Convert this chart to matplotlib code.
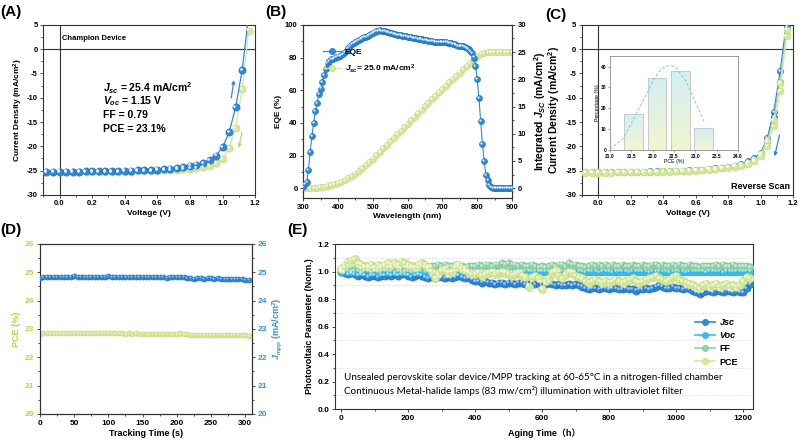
import numpy as np
import matplotlib.pyplot as plt
from matplotlib.lines import Line2D
from matplotlib.ticker import MultipleLocator, FormatStrFormatter
from matplotlib.transforms import offset_copy
from matplotlib.colors import LinearSegmentedColormap

# ---------------- data ----------------
# (A) champion J-V
volt = [-0.08, -0.04, 0.00, 0.04, 0.08, 0.12, 0.16, 0.20, 0.24, 0.28, 0.32, 0.36, 0.40, 0.44, 0.48, 0.52,
        0.56, 0.60, 0.64, 0.68, 0.72, 0.76, 0.80, 0.84, 0.88, 0.92, 0.96, 1.00, 1.04, 1.08, 1.12, 1.16]
j_rev = [-25.2, -25.2, -25.2, -25.2, -25.2, -25.2, -25.15, -25.15, -25.1, -25.1, -25.05, -25.05, -25.0, -25.0, -24.95, -24.9,
         -24.85, -24.8, -24.7, -24.6, -24.45, -24.25, -24.0, -23.8, -23.5, -22.9, -21.9, -20.2, -17.1, -12.0, -4.3, 7.0]
j_fwd = [-25.35, -25.35, -25.35, -25.35, -25.35, -25.35, -25.3, -25.3, -25.3, -25.3, -25.25, -25.25, -25.2, -25.2, -25.15, -25.1,
         -25.05, -25.0, -24.95, -24.9, -24.8, -24.7, -24.6, -24.45, -24.25, -23.95, -23.5, -22.6, -20.4, -16.2, -8.3, 3.8]

# (B) EQE and integrated Jsc
wl_eqe = [300, 305, 310, 315, 320, 325, 330, 335, 340, 345, 350, 355, 360, 365, 370, 375, 380, 385, 390, 395,
          400, 405, 410, 415, 420, 425, 430, 435, 440, 445, 450, 455, 460, 465, 470, 475, 480, 485, 490, 495,
          500, 505, 510, 515, 520, 525, 530, 535, 540, 545, 550, 555, 560, 565, 570, 575, 580, 585, 590, 595,
          600, 605, 610, 615, 620, 625, 630, 635, 640, 645, 650, 655, 660, 665, 670, 675, 680, 685, 690, 695,
          700, 705, 710, 715, 720, 725, 730, 735, 740, 745, 750, 755, 760, 765, 770, 775, 780, 785, 790, 795,
          800, 805, 810, 815, 820, 825, 830, 835, 840, 845, 850, 855, 860, 865, 870, 875, 880, 885, 890, 895, 900]
eqe = [1.0, 2.5, 4.0, 11.0, 22.0, 32.0, 40.0, 47.0, 52.0, 57.5, 61.0, 65.0, 69.5, 73.0, 76.5, 78.0, 78.8, 79.3, 79.8, 80.2,
       80.6, 81.0, 81.6, 82.4, 83.5, 84.8, 86.0, 87.3, 88.3, 89.0, 89.7, 90.3, 90.8, 91.3, 91.8, 92.3, 92.8, 93.4, 94.0, 94.5,
       95.0, 95.5, 96.0, 96.4, 96.6, 96.4, 96.2, 96.0, 95.8, 95.5, 95.2, 94.9, 94.6, 94.3, 94.0, 93.8, 93.5, 93.3, 93.1, 92.9,
       92.7, 92.5, 92.3, 92.1, 91.9, 91.7, 91.5, 91.3, 91.1, 90.9, 90.7, 90.5, 90.3, 90.1, 89.9, 89.8, 89.7, 89.6, 89.6, 89.6,
       89.6, 89.5, 89.4, 89.2, 89.0, 88.7, 88.4, 88.0, 87.6, 87.3, 87.0, 86.9, 86.8, 86.5, 85.8, 85.0, 84.0, 82.5, 80.0, 75.0,
       67.0, 55.0, 41.0, 27.0, 16.5, 8.0, 5.0, 2.0, 0.8, 0.3, 0.0, 0.0, 0.0, 0.0, 0.0, 0.0, 0.0, 0.0, 0.0, 0.0, 0.0]
wl_int = [300, 310, 320, 330, 340, 350, 360, 370, 380, 390, 400, 410, 420, 430, 440, 450, 460, 470, 480, 490,
          500, 510, 520, 530, 540, 550, 560, 570, 580, 590, 600, 610, 620, 630, 640, 650, 660, 670, 680, 690,
          700, 710, 720, 730, 740, 750, 760, 770, 780, 790, 800, 810, 820, 830, 840, 850, 860, 870, 880, 890, 900]
jsc_int = [0.0, 0.0, 0.02, 0.05, 0.1, 0.17, 0.26, 0.38, 0.53, 0.72, 0.95, 1.2, 1.5, 1.85, 2.25, 2.7, 3.2, 3.72, 4.27, 4.85,
           5.45, 6.07, 6.7, 7.34, 7.98, 8.62, 9.26, 9.9, 10.54, 11.18, 11.82, 12.46, 13.1, 13.74, 14.38, 15.02, 15.66, 16.3, 16.94, 17.58,
           18.2, 18.82, 19.44, 20.05, 20.66, 21.25, 21.83, 22.4, 22.95, 23.5, 24.1, 24.6, 24.9, 25.0, 25.0, 25.0, 25.0, 25.0, 25.0, 25.0, 25.0]

# (C) reverse scans of several devices
jc_blue1 = [-25.3, -25.3, -25.3, -25.3, -25.3, -25.3, -25.25, -25.25, -25.2, -25.2, -25.15, -25.15, -25.1, -25.1, -25.05, -25.0,
            -24.95, -24.9, -24.8, -24.7, -24.55, -24.4, -24.2, -23.95, -23.6, -23.1, -22.4, -21.3, -18.3, -12.9, -4.5, 6.0]
jc_blue2 = [-25.35, -25.35, -25.35, -25.35, -25.35, -25.3, -25.3, -25.3, -25.25, -25.25, -25.2, -25.2, -25.15, -25.15, -25.1, -25.05,
            -25.0, -24.95, -24.85, -24.75, -24.6, -24.45, -24.3, -24.05, -23.75, -23.3, -22.8, -21.8, -19.0, -14.0, -6.8, 4.5]
jc_green1 = [-25.4, -25.4, -25.4, -25.4, -25.4, -25.35, -25.35, -25.35, -25.3, -25.3, -25.25, -25.25, -25.2, -25.2, -25.15, -25.1,
             -25.05, -25.0, -24.9, -24.8, -24.7, -24.55, -24.4, -24.2, -24.0, -23.7, -23.1, -22.0, -19.9, -15.8, -8.6, 2.7]
jc_green2 = [-25.35, -25.35, -25.35, -25.35, -25.35, -25.3, -25.3, -25.3, -25.25, -25.25, -25.2, -25.2, -25.15, -25.15, -25.1, -25.05,
             -25.0, -24.95, -24.85, -24.75, -24.6, -24.45, -24.3, -24.1, -23.8, -23.4, -22.8, -21.6, -19.0, -14.6, -7.0, 4.0]

# (C) inset: PCE distribution
pce_bins = [21.55, 22.10, 22.65, 23.20]
pce_pct = [17.3, 34.5, 38.0, 10.4]
fit_x = [21.0, 21.3, 21.58, 21.86, 22.04, 22.2, 22.32, 22.45, 22.56, 22.79, 22.98, 23.21]
fit_y = [0.5, 5.3, 15.8, 27.0, 34.4, 38.8, 40.2, 40.3, 39.2, 32.7, 23.9, 13.4]

# (D) MPP tracking
t_mpp = [0, 5, 10, 15, 20, 25, 30, 35, 40, 45, 50, 55, 60, 65, 70, 75, 80, 85, 90, 95,
         100, 105, 110, 115, 120, 125, 130, 135, 140, 145, 150, 155, 160, 165, 170, 175, 180, 185, 190, 195,
         200, 205, 210, 215, 220, 225, 230, 235, 240, 245, 250, 255, 260, 265, 270, 275, 280, 285, 290, 295, 300, 305]
j_mpp = [24.80, 24.83, 24.84, 24.85, 24.83, 24.84, 24.85, 24.84, 24.83, 24.85,
         24.86, 24.84, 24.85, 24.84, 24.85, 24.83, 24.84, 24.85, 24.84, 24.85,
         24.86, 24.84, 24.83, 24.84, 24.85, 24.83, 24.84, 24.83, 24.84, 24.83,
         24.82, 24.84, 24.82, 24.83, 24.82, 24.83, 24.82, 24.81, 24.83, 24.82,
         24.83, 24.84, 24.82, 24.81, 24.79, 24.78, 24.80, 24.79, 24.78, 24.79,
         24.80, 24.78, 24.79, 24.78, 24.77, 24.78, 24.77, 24.78, 24.76, 24.75, 24.74, 24.73]
pce_mpp = [22.82, 22.84, 22.85, 22.84, 22.85, 22.84, 22.85, 22.84, 22.85, 22.84,
           22.86, 22.85, 22.84, 22.85, 22.84, 22.85, 22.84, 22.85, 22.85, 22.86,
           22.86, 22.85, 22.84, 22.85, 22.84, 22.83, 22.84, 22.83, 22.84, 22.83,
           22.82, 22.83, 22.82, 22.83, 22.82, 22.83, 22.82, 22.82, 22.83, 22.82,
           22.83, 22.84, 22.82, 22.81, 22.80, 22.79, 22.80, 22.80, 22.79, 22.80,
           22.80, 22.79, 22.80, 22.79, 22.78, 22.79, 22.78, 22.79, 22.78, 22.77, 22.77, 22.76]

# (E) aging, every 10 h from 0 to 1220 h
t_age = [0, 10, 20, 30, 40, 50, 60, 70, 80, 90, 100, 110, 120, 130, 140, 150, 160, 170, 180, 190,
         200, 210, 220, 230, 240, 250, 260, 270, 280, 290, 300, 310, 320, 330, 340, 350, 360, 370, 380, 390,
         400, 410, 420, 430, 440, 450, 460, 470, 480, 490, 500, 510, 520, 530, 540, 550, 560, 570, 580, 590,
         600, 610, 620, 630, 640, 650, 660, 670, 680, 690, 700, 710, 720, 730, 740, 750, 760, 770, 780, 790,
         800, 810, 820, 830, 840, 850, 860, 870, 880, 890, 900, 910, 920, 930, 940, 950, 960, 970, 980, 990,
         1000, 1010, 1020, 1030, 1040, 1050, 1060, 1070, 1080, 1090, 1100, 1110, 1120, 1130, 1140, 1150, 1160, 1170, 1180, 1190,
         1200, 1210, 1220]
jsc_age = [1.00, 0.99, 0.98, 0.99, 0.98, 0.97, 0.98, 0.97, 0.96, 0.97,
           0.97, 0.96, 0.97, 0.97, 0.98, 0.97, 0.98, 0.97, 0.98, 0.98,
           0.97, 0.96, 0.97, 0.98, 0.97, 0.96, 0.95, 0.96, 0.95, 0.96,
           0.96, 0.95, 0.96, 0.95, 0.96, 0.97, 0.96, 0.95, 0.95, 0.94,
           0.93, 0.93, 0.92, 0.93, 0.92, 0.92, 0.91, 0.92, 0.92, 0.91,
           0.92, 0.92, 0.91, 0.92, 0.92, 0.91, 0.91, 0.92, 0.91, 0.92,
           0.92, 0.91, 0.92, 0.91, 0.90, 0.91, 0.90, 0.90, 0.91, 0.90,
           0.91, 0.90, 0.89, 0.88, 0.87, 0.88, 0.88, 0.87, 0.88, 0.88,
           0.87, 0.88, 0.88, 0.87, 0.87, 0.88, 0.87, 0.87, 0.86, 0.87,
           0.87, 0.88, 0.87, 0.88, 0.89, 0.90, 0.89, 0.88, 0.88, 0.89,
           0.88, 0.88, 0.87, 0.88, 0.87, 0.86, 0.85, 0.84, 0.85, 0.86,
           0.86, 0.85, 0.86, 0.86, 0.85, 0.86, 0.86, 0.85, 0.86, 0.85,
           0.85, 0.88, 0.91]
voc_age = [1.00, 1.005, 1.00, 0.995, 1.00, 1.00, 0.995, 1.00, 1.00, 0.995,
           1.00, 1.00, 0.995, 1.00, 1.00, 1.00, 0.995, 1.00, 1.00, 1.00,
           1.00, 0.995, 1.00, 1.00, 1.00, 0.995, 1.00, 1.00, 0.995, 1.00,
           1.00, 1.00, 0.995, 1.00, 1.00, 1.00, 1.00, 0.995, 1.00, 1.00,
           1.00, 1.00, 1.005, 1.00, 1.00, 1.00, 1.005, 1.00, 1.00, 1.00,
           1.00, 1.005, 1.00, 1.00, 1.00, 1.00, 1.00, 1.005, 1.00, 1.00,
           1.00, 1.00, 1.00, 1.005, 1.00, 1.00, 1.00, 1.00, 1.00, 1.00,
           1.00, 1.00, 1.00, 0.995, 1.00, 1.00, 1.00, 0.995, 1.00, 1.00,
           1.00, 0.995, 1.00, 1.00, 1.00, 1.00, 0.995, 1.00, 1.00, 1.00,
           1.00, 1.00, 0.995, 1.00, 1.00, 1.00, 1.00, 1.00, 0.995, 1.00,
           1.00, 1.00, 1.00, 0.995, 1.00, 1.00, 1.00, 1.00, 1.00, 0.995,
           1.00, 1.00, 1.00, 1.00, 0.995, 1.00, 1.00, 1.00, 1.00, 1.00,
           1.00, 1.00, 1.00]
ff_age = [1.02, 1.03, 1.04, 1.03, 1.04, 1.03, 1.02, 1.03, 1.03, 1.02,
          1.03, 1.02, 1.03, 1.04, 1.03, 1.03, 1.04, 1.03, 1.02, 1.03,
          1.03, 1.02, 1.03, 1.03, 1.04, 1.03, 1.03, 1.04, 1.04, 1.05,
          1.04, 1.05, 1.04, 1.04, 1.05, 1.04, 1.04, 1.03, 1.04, 1.04,
          1.04, 1.05, 1.04, 1.05, 1.05, 1.04, 1.05, 1.05, 1.06, 1.05,
          1.06, 1.05, 1.05, 1.04, 1.05, 1.04, 1.04, 1.05, 1.04, 1.03,
          1.04, 1.03, 1.04, 1.05, 1.04, 1.05, 1.05, 1.04, 1.06, 1.05,
          1.05, 1.04, 1.04, 1.03, 1.04, 1.05, 1.04, 1.05, 1.04, 1.05,
          1.04, 1.05, 1.04, 1.04, 1.05, 1.04, 1.04, 1.05, 1.04, 1.04,
          1.05, 1.04, 1.04, 1.05, 1.05, 1.04, 1.05, 1.04, 1.04, 1.05,
          1.04, 1.05, 1.04, 1.04, 1.05, 1.04, 1.04, 1.03, 1.04, 1.04,
          1.04, 1.04, 1.05, 1.04, 1.05, 1.04, 1.04, 1.05, 1.04, 1.04,
          1.04, 1.04, 1.03]
pce_age = [1.02, 1.05, 1.07, 1.08, 1.09, 1.06, 1.05, 1.04, 1.04, 1.05,
           1.03, 1.05, 1.04, 1.05, 1.06, 1.05, 1.06, 1.05, 1.07, 1.06,
           1.05, 1.04, 1.03, 1.05, 1.06, 1.05, 1.03, 1.00, 0.95, 0.98,
           1.01, 1.02, 0.99, 1.00, 1.03, 1.05, 1.02, 1.01, 0.99, 0.98,
           0.98, 0.99, 0.97, 0.98, 0.99, 1.00, 0.98, 0.99, 1.00, 0.99,
           0.98, 0.97, 0.98, 0.99, 0.97, 0.96, 0.89, 0.96, 0.97, 0.95,
           0.87, 0.93, 0.95, 0.99, 1.01, 0.97, 0.95, 0.98, 1.00, 0.99,
           0.97, 0.96, 0.95, 0.93, 0.92, 0.93, 0.94, 0.93, 0.92, 0.93,
           0.92, 0.93, 0.94, 0.93, 0.92, 0.93, 0.94, 0.95, 0.93, 0.92,
           0.93, 0.94, 0.95, 0.96, 0.97, 0.95, 0.94, 0.93, 0.94, 0.96,
           0.97, 0.94, 0.93, 0.92, 0.91, 0.90, 0.89, 0.88, 0.90, 0.91,
           0.89, 0.90, 0.91, 0.89, 0.90, 0.91, 0.89, 0.90, 0.89, 0.90,
           0.93, 0.96, 0.95]

# ---------------- style ----------------
BLUE = '#2f88d8'
BLUE_E = '#1d6cb9'
GREEN = '#d6e89c'
GREEN_E = '#c0d67a'
CYAN = '#3cbde3'
CYAN_E = '#2aaed6'
FFG = '#8fd3a8'
FFG_E = '#7cc596'
LIME = '#b9d44c'
DBLUE = '#3393e0'
DARK = '#333333'

plt.rcParams['font.family'] = ['Liberation Sans', 'DejaVu Sans', 'Noto Sans CJK SC']
plt.rcParams['font.weight'] = 'bold'
plt.rcParams['axes.labelweight'] = 'bold'
plt.rcParams['axes.unicode_minus'] = False
plt.rcParams['mathtext.fontset'] = 'custom'
plt.rcParams['mathtext.rm'] = 'Liberation Sans:bold'
plt.rcParams['mathtext.it'] = 'Liberation Sans:italic:bold'
plt.rcParams['mathtext.bf'] = 'Liberation Sans:bold'
plt.rcParams['axes.edgecolor'] = DARK
plt.rcParams['axes.linewidth'] = 0.8

fig = plt.figure(figsize=(8, 4.44), dpi=100)


def style(ax, size=5.5):
    ax.tick_params(which='both', direction='out', width=0.6, color=DARK, labelsize=size, pad=1.5)
    ax.tick_params(which='major', length=2.5)
    ax.tick_params(which='minor', length=1.5)


def balls(ax, x, y, color, edge, ms, line=True, lw=1.0, z=3, hl=0.85):
    # sphere-like markers: coloured disc plus a small white highlight up-left
    ax.plot(x, y, linestyle='-' if line else 'none', color=color, lw=lw, marker='o', ms=ms,
            mfc=color, mec=edge, mew=0.4, zorder=z)
    tr = offset_copy(ax.transData, fig=fig, x=-0.18 * ms, y=0.18 * ms, units='points')
    ax.plot(x, y, linestyle='none', marker='o', ms=ms * 0.38, mfc='white', mec='none', alpha=hl,
            transform=tr, zorder=z + 0.1)


def panel_label(x, y, s):
    fig.text(x / 800, 1 - y / 444, s, fontsize=11, fontweight='bold', va='center', ha='left')


def ball_handle(c, e, ms, lw):
    return Line2D([], [], color=c, lw=lw, marker='o', ms=ms, mfc=c, mec=e, mew=0.4)


# ---------------- (A) ----------------
axA = fig.add_axes([0.054, 0.561, 0.265, 0.383])
style(axA)
axA.axhline(0, color=DARK, lw=0.8, zorder=1)
axA.axvline(0, color=DARK, lw=0.8, zorder=1)
balls(axA, volt, j_fwd, GREEN, GREEN_E, 5.2, lw=0.9)
balls(axA, volt, j_rev, BLUE, BLUE_E, 5.2, lw=0.9)
axA.set_xlim(-0.1, 1.2)
axA.set_ylim(-30, 5)
axA.xaxis.set_major_locator(MultipleLocator(0.2))
axA.xaxis.set_minor_locator(MultipleLocator(0.1))
axA.xaxis.set_major_formatter(FormatStrFormatter('%.1f'))
axA.yaxis.set_major_locator(MultipleLocator(5))
axA.yaxis.set_minor_locator(MultipleLocator(2.5))
axA.set_xlabel('Voltage (V)', fontsize=6, labelpad=2)
axA.set_ylabel('Current Density (mA/cm$^2$)', fontsize=6, labelpad=1)
axA.text(0.09, 0.92, 'Champion Device', transform=axA.transAxes, fontsize=5.5, va='center')
for yy, s in zip([0.629, 0.55, 0.47, 0.39],
                 ['$J_{sc}$ = 25.4 mA/cm$^2$', '$V_{oc}$ = 1.15 V', 'FF = 0.79', 'PCE = 23.1%']):
    axA.text(0.283, yy, s, transform=axA.transAxes, fontsize=7.5, va='center')
axA.annotate('', xy=(1.072, -5.8), xytext=(1.051, -10.6),
             arrowprops=dict(arrowstyle='-|>', color=BLUE, lw=0.9, mutation_scale=5))
axA.annotate('', xy=(1.097, -20.9), xytext=(1.122, -16.4),
             arrowprops=dict(arrowstyle='-|>', color=GREEN_E, lw=0.9, mutation_scale=5))
panel_label(0, 12, '(A)')

# ---------------- (B) ----------------
axB = fig.add_axes([0.379, 0.554, 0.261, 0.39])
axB2 = axB.twinx()
style(axB)
style(axB2)
balls(axB2, wl_int, jsc_int, GREEN, GREEN_E, 4.5, lw=0.8)
balls(axB, wl_eqe, eqe, BLUE, BLUE_E, 4.3, lw=0.8)
axB.set_zorder(axB2.get_zorder() + 1)
axB.patch.set_visible(False)
axB.set_xlim(300, 900)
axB.set_ylim(-6, 100)
axB2.set_ylim(-1.8, 30)
axB.xaxis.set_major_locator(MultipleLocator(100))
axB.xaxis.set_minor_locator(MultipleLocator(50))
axB.yaxis.set_major_locator(MultipleLocator(20))
axB.yaxis.set_minor_locator(MultipleLocator(10))
axB2.yaxis.set_major_locator(MultipleLocator(5))
axB2.yaxis.set_minor_locator(MultipleLocator(2.5))
axB.set_xlabel('Wavelength (nm)', fontsize=6, labelpad=2)
axB.set_ylabel('EQE (%)', fontsize=6, labelpad=2)
axB2.set_ylabel('Integrated $J_{SC}$ (mA/cm$^2$)', fontsize=7.5)
axB2.yaxis.set_label_coords(1.095, 0.5)
hB = [ball_handle(BLUE, BLUE_E, 4.5, 0.9), ball_handle(GREEN, GREEN_E, 4.5, 0.9)]
axB.legend(hB, ['EQE', '$J_{sc}$= 25.0 mA/cm$^2$'], loc='upper left', bbox_to_anchor=(0.075, 0.89),
           frameon=False, fontsize=6, handlelength=2.2, handletextpad=0.4, labelspacing=0.8, borderpad=0)
panel_label(265, 12, '(B)')

# ---------------- (C) ----------------
axC = fig.add_axes([0.7275, 0.561, 0.264, 0.383])
style(axC)
axC.axhline(0, color=DARK, lw=0.8, zorder=1)
axC.axvline(0, color=DARK, lw=0.8, zorder=1)
balls(axC, volt, jc_blue1, BLUE, BLUE_E, 4.5, lw=0.8)
balls(axC, volt, jc_blue2, BLUE, BLUE_E, 4.5, lw=0.8)
balls(axC, volt, jc_green2, GREEN, GREEN_E, 5, lw=0.8)
balls(axC, volt, jc_green1, GREEN, GREEN_E, 5, lw=0.8)
axC.set_xlim(-0.1, 1.2)
axC.set_ylim(-30, 5)
axC.xaxis.set_major_locator(MultipleLocator(0.2))
axC.xaxis.set_minor_locator(MultipleLocator(0.1))
axC.xaxis.set_major_formatter(FormatStrFormatter('%.1f'))
axC.yaxis.set_major_locator(MultipleLocator(5))
axC.yaxis.set_minor_locator(MultipleLocator(2.5))
axC.set_xlabel('Voltage (V)', fontsize=6, labelpad=2)
axC.set_ylabel('Current Density (mA/cm$^2$)', fontsize=7.5)
axC.yaxis.set_label_coords(-0.095, 0.5)
axC.text(0.986, 0.047, 'Reverse Scan', transform=axC.transAxes, fontsize=6.5, ha='right', va='center')
axC.annotate('', xy=(1.082, -22.6), xytext=(1.119, -17.1),
             arrowprops=dict(arrowstyle='-|>', color=BLUE, lw=0.9, mutation_scale=5))
panel_label(545, 15, '(C)')

axIn = fig.add_axes([0.7625, 0.662, 0.16, 0.2117])
axIn.tick_params(which='both', direction='out', width=0.4, length=1.5, labelsize=3.5, pad=1, color='#666666')
for sp in axIn.spines.values():
    sp.set_color('#8a8a8a')
    sp.set_linewidth(0.6)
cmap = LinearSegmentedColormap.from_list('barfill', ['#f1f6cf', '#d3eff4'])
for c, h in zip(pce_bins, pce_pct):
    bar = axIn.bar(c, h, width=0.44, facecolor='none', edgecolor='#c4c4c4', lw=0.6, zorder=3)[0]
    img = axIn.imshow(np.linspace(0, 1, 50).reshape(-1, 1), cmap=cmap, aspect='auto',
                      extent=[c - 0.22, c + 0.22, 0, h], origin='lower', zorder=2)
    img.set_clip_path(bar)
axIn.plot(fit_x, fit_y, ls=(0, (3, 2)), color='#6fd3cf', lw=0.7, zorder=4)
axIn.set_xlim(21, 24)
axIn.set_ylim(0, 45)
axIn.xaxis.set_major_locator(MultipleLocator(0.5))
axIn.xaxis.set_major_formatter(FormatStrFormatter('%.1f'))
axIn.yaxis.set_major_locator(MultipleLocator(10))
axIn.set_xlabel('PCE (%)', fontsize=3.8, labelpad=0.5, fontweight='normal')
axIn.set_ylabel('Percentage (%)', fontsize=3.8, labelpad=1, fontweight='normal')

# ---------------- (D) ----------------
axD = fig.add_axes([0.05, 0.0676, 0.265, 0.383])
axD2 = axD.twinx()
style(axD, 6)
style(axD2, 6)
balls(axD, t_mpp, pce_mpp, GREEN, GREEN_E, 3.7, lw=0.9, hl=0.5)
balls(axD2, t_mpp, j_mpp, BLUE, BLUE_E, 3.7, lw=0.9, hl=0.5)
axD.set_xlim(0, 310)
axD.set_ylim(20, 26)
axD2.set_ylim(20, 26)
axD.xaxis.set_major_locator(MultipleLocator(50))
axD.xaxis.set_minor_locator(MultipleLocator(25))
for a in (axD, axD2):
    a.yaxis.set_major_locator(MultipleLocator(1))
    a.yaxis.set_minor_locator(MultipleLocator(0.5))
axD.tick_params(axis='y', labelcolor=LIME)
axD2.tick_params(axis='y', labelcolor=DBLUE)
axD.set_xlabel('Tracking Time (s)', fontsize=6.5, labelpad=2)
axD.set_ylabel('PCE (%)', fontsize=6.5, color=LIME, labelpad=3)
axD2.set_ylabel('$J_{mpp}$ (mA/cm$^2$)', fontsize=6.5, color=DBLUE)
axD2.yaxis.set_label_coords(1.085, 0.5)
panel_label(0, 230, '(D)')

# ---------------- (E) ----------------
axE = fig.add_axes([0.419, 0.0788, 0.5225, 0.3716])
style(axE, 6)
for g in [0.1, 0.3, 0.5, 0.7, 0.9, 1.1]:
    axE.axhline(g, color='#dcdcdc', lw=0.6, ls=(0, (2, 2)), zorder=0)
balls(axE, t_age, jsc_age, BLUE, BLUE_E, 5.2, lw=0.8, hl=0.55)
balls(axE, t_age, voc_age, CYAN, CYAN_E, 5.0, lw=0.8, hl=0.55)
balls(axE, t_age, ff_age, FFG, FFG_E, 5.2, lw=0.8, hl=0.55)
balls(axE, t_age, pce_age, GREEN, GREEN_E, 5.8, lw=0.8, hl=0.55)
axE.set_xlim(-18, 1230)
axE.set_ylim(0, 1.2)
axE.xaxis.set_major_locator(MultipleLocator(200))
axE.xaxis.set_minor_locator(MultipleLocator(100))
axE.yaxis.set_major_locator(MultipleLocator(0.2))
axE.yaxis.set_minor_locator(MultipleLocator(0.1))
axE.yaxis.set_major_formatter(FormatStrFormatter('%.1f'))
axE.set_xlabel('Aging Time（h）', fontsize=6.5, labelpad=5)
axE.set_ylabel('Photovoltaic Parameter (Norm.)', fontsize=6.5, labelpad=3)
hE = [ball_handle(c, e, 4.5, 1.2) for c, e in [(BLUE, BLUE_E), (CYAN, CYAN_E), (FFG, FFG_E), (GREEN, GREEN_E)]]
legE = axE.legend(hE, ['Jsc', 'Voc', 'FF', 'PCE'], loc='lower right', bbox_to_anchor=(0.975, 0.23),
                  frameon=False, fontsize=6.5, handlelength=2.2, handletextpad=0.5, labelspacing=0.45, borderpad=0)
legE.get_texts()[0].set_style('italic')
legE.get_texts()[1].set_style('italic')
note_font = dict(fontsize=7.1, fontweight='normal', family=['Lato', 'DejaVu Sans'], va='center')
axE.text(0.02, 0.19, 'Unsealed perovskite solar device/MPP tracking at 60-65°C in a nitrogen-filled chamber',
         transform=axE.transAxes, **note_font)
axE.text(0.02, 0.11, 'Continuous Metal-halide lamps (83 mw/cm²) illumination with ultraviolet filter',
         transform=axE.transAxes, **note_font)
panel_label(287, 230, '(E)')

fig.savefig('out.png', dpi=100)
